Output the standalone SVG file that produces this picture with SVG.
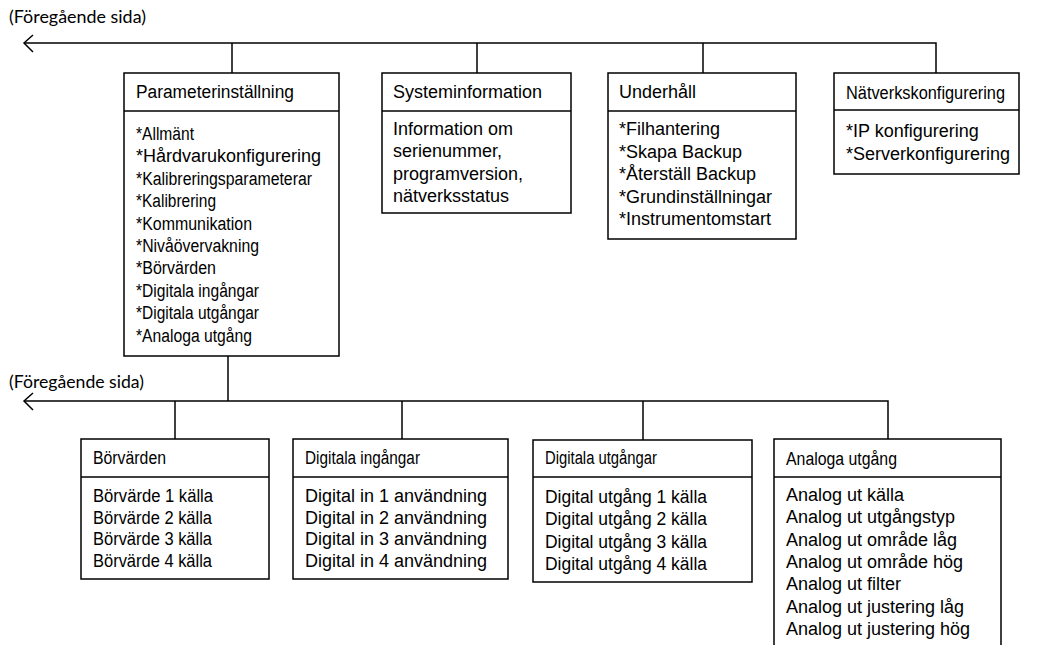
<svg xmlns="http://www.w3.org/2000/svg" width="1039" height="645" viewBox="0 0 1039 645">
<style>
.box{fill:#fff;stroke:#000;stroke-width:1.5}
.ln{fill:none;stroke:#000;stroke-width:1.5}
text{font-family:"Liberation Sans",Arial,sans-serif;font-size:18px;fill:#000}
.lbl{font-family:Lato,"Open Sans",sans-serif;font-size:16.5px}
</style>
<rect width="1039" height="645" fill="#fff"/>
<g id="connectors">
<polyline class="ln" points="24,43 936,43 936,73"/>
<line class="ln" x1="232" y1="43" x2="232" y2="73"/>
<line class="ln" x1="477" y1="43" x2="477" y2="73"/>
<line class="ln" x1="703" y1="43" x2="703" y2="73"/>
<polyline class="ln" points="33,35 24,43 33,52"/>
<line class="ln" x1="228" y1="356" x2="228" y2="401"/>
<polyline class="ln" points="24,401 888,401 888,439"/>
<line class="ln" x1="175" y1="401" x2="175" y2="439"/>
<line class="ln" x1="402" y1="401" x2="402" y2="439"/>
<line class="ln" x1="643" y1="401" x2="643" y2="440"/>
<polyline class="ln" points="33,393 24,401 33,410"/>
</g>
<text class="lbl" x="9" y="23" textLength="137" lengthAdjust="spacingAndGlyphs">(Föregående sida)</text>
<text class="lbl" x="9" y="388" textLength="135" lengthAdjust="spacingAndGlyphs">(Föregående sida)</text>
<g id="parameterinstallning">
<rect class="box" x="124" y="73" width="215" height="283"/>
<line class="ln" x1="124" y1="111" x2="339" y2="111"/>
<text x="136" y="98" textLength="158" lengthAdjust="spacingAndGlyphs">Parameterinställning</text>
<text x="136" y="140" textLength="58" lengthAdjust="spacingAndGlyphs">*Allmänt</text>
<text x="136" y="162.4">*Hårdvarukonfigurering</text>
<text x="136" y="184.8" textLength="176" lengthAdjust="spacingAndGlyphs">*Kalibreringsparameterar</text>
<text x="136" y="207.2" textLength="80" lengthAdjust="spacingAndGlyphs">*Kalibrering</text>
<text x="136" y="229.6" textLength="116" lengthAdjust="spacingAndGlyphs">*Kommunikation</text>
<text x="136" y="252" textLength="123" lengthAdjust="spacingAndGlyphs">*Nivåövervakning</text>
<text x="136" y="274.4" textLength="80" lengthAdjust="spacingAndGlyphs">*Börvärden</text>
<text x="136" y="296.8" textLength="123" lengthAdjust="spacingAndGlyphs">*Digitala ingångar</text>
<text x="136" y="319.2" textLength="123" lengthAdjust="spacingAndGlyphs">*Digitala utgångar</text>
<text x="136" y="341.6" textLength="116" lengthAdjust="spacingAndGlyphs">*Analoga utgång</text>
</g>
<g id="systeminformation">
<rect class="box" x="382" y="73" width="189" height="140"/>
<line class="ln" x1="382" y1="111" x2="571" y2="111"/>
<text x="393" y="98">Systeminformation</text>
<text x="393" y="135">Information om</text>
<text x="393" y="157.4">serienummer,</text>
<text x="393" y="179.8">programversion,</text>
<text x="393" y="202.2">nätverksstatus</text>
</g>
<g id="underhall">
<rect class="box" x="608" y="73" width="188" height="166"/>
<line class="ln" x1="608" y1="111" x2="796" y2="111"/>
<text x="619" y="98">Underhåll</text>
<text x="619" y="135">*Filhantering</text>
<text x="619" y="157.5">*Skapa Backup</text>
<text x="619" y="180">*Återställ Backup</text>
<text x="619" y="202.5">*Grundinställningar</text>
<text x="619" y="225">*Instrumentomstart</text>
</g>
<g id="natverkskonfigurering">
<rect class="box" x="834" y="73" width="185" height="101"/>
<line class="ln" x1="834" y1="110" x2="1019" y2="110"/>
<text x="846" y="99" textLength="159" lengthAdjust="spacingAndGlyphs">Nätverkskonfigurering</text>
<text x="846" y="137">*IP konfigurering</text>
<text x="846" y="159.5">*Serverkonfigurering</text>
</g>
<g id="borvarden">
<rect class="box" x="81" y="439" width="188" height="140"/>
<line class="ln" x1="81" y1="477" x2="269" y2="477"/>
<text x="93" y="464" textLength="73" lengthAdjust="spacingAndGlyphs">Börvärden</text>
<text x="93" y="502" textLength="120" lengthAdjust="spacingAndGlyphs">Börvärde 1 källa</text>
<text x="93" y="523.7" textLength="119" lengthAdjust="spacingAndGlyphs">Börvärde 2 källa</text>
<text x="93" y="545.3" textLength="119" lengthAdjust="spacingAndGlyphs">Börvärde 3 källa</text>
<text x="93" y="567" textLength="119" lengthAdjust="spacingAndGlyphs">Börvärde 4 källa</text>
</g>
<g id="digitala-ingangar">
<rect class="box" x="293" y="439" width="215" height="140"/>
<line class="ln" x1="293" y1="477" x2="508" y2="477"/>
<text x="305" y="464" textLength="115" lengthAdjust="spacingAndGlyphs">Digitala ingångar</text>
<text x="305" y="502">Digital in 1 användning</text>
<text x="305" y="523.7">Digital in 2 användning</text>
<text x="305" y="545.3">Digital in 3 användning</text>
<text x="305" y="567">Digital in 4 användning</text>
</g>
<g id="digitala-utgangar">
<rect class="box" x="533" y="440" width="219" height="142"/>
<line class="ln" x1="533" y1="477" x2="752" y2="477"/>
<text x="545" y="464" textLength="112" lengthAdjust="spacingAndGlyphs">Digitala utgångar</text>
<text x="545" y="503" textLength="162" lengthAdjust="spacingAndGlyphs">Digital utgång 1 källa</text>
<text x="545" y="525.3" textLength="162" lengthAdjust="spacingAndGlyphs">Digital utgång 2 källa</text>
<text x="545" y="547.7" textLength="162" lengthAdjust="spacingAndGlyphs">Digital utgång 3 källa</text>
<text x="545" y="570" textLength="162" lengthAdjust="spacingAndGlyphs">Digital utgång 4 källa</text>
</g>
<g id="analoga-utgang">
<path class="box" d="M774,647 V439 H1001 V647"/>
<line class="ln" x1="774" y1="477" x2="1001" y2="477"/>
<text x="786" y="465" textLength="111" lengthAdjust="spacingAndGlyphs">Analoga utgång</text>
<text x="786" y="501">Analog ut källa</text>
<text x="786" y="523.3">Analog ut utgångstyp</text>
<text x="786" y="545.6">Analog ut område låg</text>
<text x="786" y="567.9">Analog ut område hög</text>
<text x="786" y="590.2">Analog ut filter</text>
<text x="786" y="612.5">Analog ut justering låg</text>
<text x="786" y="634.8">Analog ut justering hög</text>
</g>
</svg>
